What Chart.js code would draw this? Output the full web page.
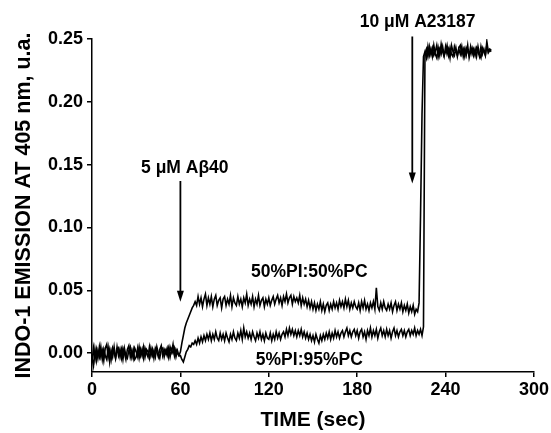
<!DOCTYPE html>
<html>
<head>
<meta charset="utf-8">
<script src="https://cdn.jsdelivr.net/npm/chart.js@4/dist/chart.umd.min.js"></script>
<style>
  html, body { margin: 0; padding: 0; background: #fff; }
  #wrap { width: 551px; height: 433px; position: relative; }
</style>
</head>
<body>
<div id="wrap"><canvas id="chart"></canvas></div>
<script>
// time (sec), one reading per second
const timeSec = [
  0,1,2,3,4,5,6,7,8,9,10,11,12,13,14,15,16,17,18,19,
  20,21,22,23,24,25,26,27,28,29,30,31,32,33,34,35,36,37,38,39,
  40,41,42,43,44,45,46,47,48,49,50,51,52,53,54,55,56,57,58,59,
  60,61,62,63,64,65,66,67,68,69,70,71,72,73,74,75,76,77,78,79,
  80,81,82,83,84,85,86,87,88,89,90,91,92,93,94,95,96,97,98,99,
  100,101,102,103,104,105,106,107,108,109,110,111,112,113,114,115,116,117,118,119,
  120,121,122,123,124,125,126,127,128,129,130,131,132,133,134,135,136,137,138,139,
  140,141,142,143,144,145,146,147,148,149,150,151,152,153,154,155,156,157,158,159,
  160,161,162,163,164,165,166,167,168,169,170,171,172,173,174,175,176,177,178,179,
  180,181,182,183,184,185,186,187,188,189,190,191,192,193,194,195,196,197,198,199,
  200,201,202,203,204,205,206,207,208,209,210,211,212,213,214,215,216,217,218,219,
  220,221,222,223,224,225,226,227,228,229,230,231,232,233,234,235,236,237,238,239,
  240,241,242,243,244,245,246,247,248,249,250,251,252,253,254,255,256,257,258,259,
  260,261,262,263,264,265,266,267,268,269,270,271
];

// 50%PI:50%PC trace
const pi50 = [
  -0.007,0.004,-0.005,0.003,-0.004,0.005,-0.003,0.002,-0.006,0.004,
  0.007,-0.003,0.003,-0.005,0.004,0.000,-0.004,0.005,-0.002,0.003,
  -0.004,0.004,0.000,-0.005,0.003,0.006,-0.003,0.002,-0.004,0.004,
  0.001,-0.003,0.005,-0.002,0.003,-0.004,0.004,0.000,-0.003,0.005,
  -0.002,0.003,-0.004,0.004,0.001,-0.003,0.003,0.006,-0.002,0.003,
  0.000,0.004,-0.003,0.005,0.001,0.007,-0.002,0.003,0.000,-0.002,
  0.001,0.008,0.014,0.020,0.024,0.027,0.030,0.033,0.036,0.038,
  0.041,0.038,0.045,0.039,0.044,0.037,0.043,0.047,0.038,0.044,
  0.039,0.045,0.037,0.043,0.046,0.038,0.042,0.044,0.036,0.043,
  0.045,0.038,0.043,0.039,0.046,0.037,0.044,0.040,0.038,0.045,
  0.039,0.043,0.037,0.044,0.040,0.047,0.038,0.043,0.039,0.045,
  0.037,0.043,0.039,0.046,0.038,0.042,0.044,0.037,0.043,0.039,
  0.044,0.038,0.042,0.045,0.039,0.043,0.046,0.040,0.044,0.038,
  0.045,0.041,0.047,0.040,0.044,0.046,0.039,0.045,0.041,0.044,
  0.040,0.046,0.038,0.044,0.039,0.043,0.037,0.042,0.036,0.041,
  0.035,0.040,0.034,0.039,0.035,0.041,0.034,0.039,0.033,0.038,
  0.040,0.034,0.039,0.035,0.041,0.036,0.040,0.035,0.042,0.037,
  0.041,0.036,0.043,0.037,0.042,0.035,0.040,0.036,0.041,0.037,
  0.035,0.040,0.034,0.041,0.036,0.042,0.035,0.039,0.034,0.040,
  0.036,0.041,0.035,0.052,0.037,0.034,0.040,0.035,0.041,0.036,
  0.034,0.039,0.035,0.040,0.033,0.038,0.041,0.034,0.039,0.035,
  0.040,0.033,0.038,0.034,0.039,0.032,0.037,0.033,0.038,0.031,
  0.035,0.033,0.040,0.110,0.190,0.236,0.240,0.235,0.244,0.237,
  0.242,0.236,0.245,0.238,0.235,0.243,0.237,0.246,0.240,0.236,
  0.244,0.238,0.242,0.235,0.245,0.240,0.237,0.243,0.236,0.242,
  0.238,0.244,0.236,0.242,0.237,0.245,0.235,0.240,0.243,0.237,
  0.242,0.236,0.244,0.238,0.235,0.243,0.240,0.237,0.248,0.240,
  0.242,0.241
];

// 5%PI:95%PC trace
const pi5 = [
  -0.004,-0.010,0.003,-0.006,0.002,-0.003,0.005,-0.005,0.003,-0.002,
  -0.005,0.004,-0.007,0.002,-0.003,0.005,-0.004,0.002,0.004,-0.003,
  0.003,-0.005,0.004,-0.002,-0.004,0.002,0.005,-0.003,0.003,-0.005,
  -0.003,0.004,-0.004,0.003,-0.002,0.005,-0.003,0.003,0.001,-0.004,
  0.004,-0.002,0.002,-0.003,0.005,0.000,-0.004,0.003,0.004,-0.003,
  0.002,-0.002,0.004,-0.003,0.003,0.000,0.004,-0.003,0.002,-0.002,
  -0.002,-0.005,-0.007,-0.003,0.001,0.003,0.006,0.005,0.008,0.007,
  0.010,0.007,0.012,0.008,0.013,0.009,0.014,0.010,0.015,0.011,
  0.016,0.010,0.015,0.011,0.017,0.012,0.010,0.016,0.011,0.015,
  0.010,0.016,0.012,0.009,0.015,0.011,0.017,0.012,0.010,0.016,
  0.012,0.018,0.011,0.020,0.013,0.017,0.012,0.016,0.011,0.017,
  0.013,0.010,0.016,0.012,0.017,0.011,0.015,0.010,0.016,0.012,
  0.011,0.016,0.010,0.015,0.011,0.017,0.012,0.016,0.011,0.015,
  0.017,0.013,0.019,0.014,0.020,0.015,0.019,0.014,0.018,0.013,
  0.018,0.014,0.019,0.013,0.017,0.012,0.016,0.011,0.015,0.010,
  0.014,0.009,0.015,0.011,0.008,0.014,0.010,0.015,0.011,0.016,
  0.012,0.017,0.011,0.016,0.012,0.018,0.013,0.017,0.012,0.016,
  0.018,0.013,0.017,0.020,0.014,0.018,0.013,0.017,0.019,0.014,
  0.018,0.012,0.017,0.019,0.013,0.017,0.011,0.018,0.014,0.020,
  0.013,0.018,0.014,0.019,0.012,0.017,0.020,0.014,0.018,0.013,
  0.019,0.014,0.018,0.012,0.017,0.020,0.014,0.018,0.013,0.017,
  0.019,0.014,0.018,0.013,0.017,0.019,0.014,0.018,0.015,0.020,
  0.014,0.018,0.015,0.019,0.014,0.021,0.238,0.242,0.236,0.244,
  0.238,0.243,0.237,0.240,0.245,0.236,0.242,0.238,0.244,0.237,
  0.240,0.245,0.237,0.243,0.238,0.236,0.244,0.240,0.237,0.243,
  0.245,0.238,0.242,0.236,0.243,0.240,0.237,0.244,0.238,0.242,
  0.237,0.243,0.240,0.236,0.244,0.238,0.242,0.237,0.245,0.239,
  0.241,0.240
];

const xTicks = [0, 60, 120, 180, 240, 300];
const yTicks = [0.00, 0.05, 0.10, 0.15, 0.20, 0.25];

// arrows: [time, y start, y tip]
const arrows = [
  [60, 0.137, 0.041],
  [217.4, 0.252, 0.135]
];
// text notes: [text, time, y]
const notes = [
  ["5 \u03bcM A\u03b240", 63, 0.147],
  ["10 \u03bcM A23187", 221, 0.2635],
  ["50%PI:50%PC", 147.5, 0.0645],
  ["5%PI:95%PC", 147.5, -0.0055]
];

const FONT = '"Liberation Sans", Arial, Helvetica, sans-serif';
Chart.defaults.color = "#000";
Chart.defaults.font.family = FONT;

const notesPlugin = {
  id: "notes",
  afterDatasetsDraw(chart) {
    const { ctx, scales: { x, y } } = chart;
    ctx.save();
    ctx.strokeStyle = "#000";
    ctx.fillStyle = "#000";
    ctx.lineWidth = 1.8;
    for (const [t, y0, y1] of arrows) {
      const px = x.getPixelForValue(t);
      const top = y.getPixelForValue(y0);
      const tip = y.getPixelForValue(y1);
      ctx.beginPath();
      ctx.moveTo(px, top);
      ctx.lineTo(px, tip - 8);
      ctx.stroke();
      ctx.beginPath();
      ctx.moveTo(px - 3.5, tip - 11);
      ctx.lineTo(px + 3.5, tip - 11);
      ctx.lineTo(px, tip);
      ctx.closePath();
      ctx.fill();
    }
    ctx.font = "bold 17.5px " + FONT;
    ctx.textAlign = "center";
    ctx.textBaseline = "middle";
    for (const [text, t, v] of notes) {
      ctx.fillText(text, x.getPixelForValue(t), y.getPixelForValue(v));
    }
    ctx.restore();
  }
};

const traceStyle = {
  borderColor: "#000",
  borderWidth: 1.6,
  pointRadius: 0,
  tension: 0,
  fill: false
};

new Chart(document.getElementById("chart"), {
  type: "line",
  data: {
    labels: timeSec,
    datasets: [
      { label: "50%PI:50%PC", data: pi50, ...traceStyle },
      { label: "5%PI:95%PC", data: pi5, ...traceStyle }
    ]
  },
  options: {
    responsive: true,
    maintainAspectRatio: false,
    animation: false,
    layout: { padding: { top: 39, right: 16, bottom: 0, left: 0 } },
    plugins: {
      legend: { display: false },
      tooltip: { enabled: false }
    },
    scales: {
      x: {
        type: "linear",
        min: 0,
        max: 300,
        afterBuildTicks: (scale) => { scale.ticks = xTicks.map((v) => ({ value: v })); },
        afterFit: (scale) => { scale.height = 61; },
        grid: { drawOnChartArea: false, drawTicks: true, tickLength: 5, color: "#000", lineWidth: 1.5 },
        border: { display: true, color: "#000", width: 1.5 },
        ticks: { font: { size: 18, weight: "bold" }, padding: 2, maxRotation: 0 },
        title: { display: true, text: "TIME (sec)", font: { size: 21, weight: "bold" }, padding: { top: 0, bottom: 0 } }
      },
      y: {
        min: -0.015,
        max: 0.25,
        afterBuildTicks: (scale) => { scale.ticks = yTicks.map((v) => ({ value: v })); },
        afterFit: (scale) => { scale.width = 92; },
        grid: { drawOnChartArea: false, drawTicks: true, tickLength: 5, color: "#000", lineWidth: 1.5 },
        border: { display: true, color: "#000", width: 1.5 },
        ticks: { font: { size: 18, weight: "bold" }, padding: 4, callback: (v) => Number(v).toFixed(2) },
        title: { display: true, text: "INDO-1 EMISSION AT 405 nm, u.a.", font: { size: 21.5, weight: "bold" }, padding: { top: 11, bottom: 0 } }
      }
    }
  },
  plugins: [notesPlugin]
});
</script>
</body>
</html>
